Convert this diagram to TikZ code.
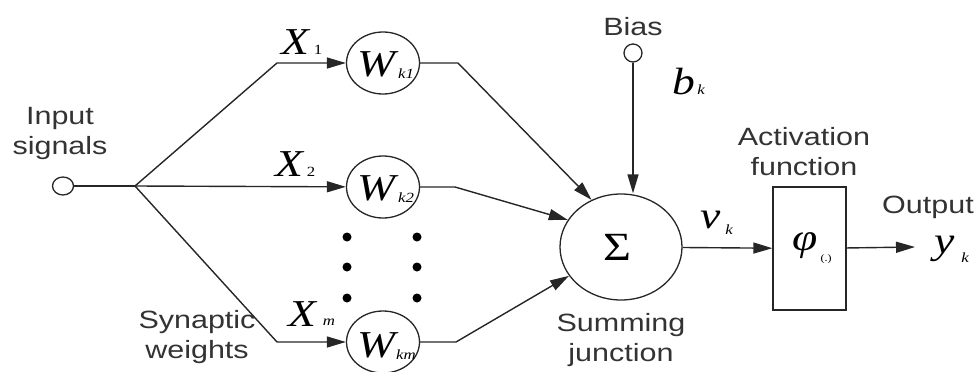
\documentclass[tikz,border=0pt]{standalone}
\usepackage{fontspec}
\setmainfont{Liberation Sans}
\newfontfamily\labfont[FakeStretch=1.22]{Liberation Sans}
\newfontfamily\symfont[FakeStretch=1.2]{Liberation Serif}
\usetikzlibrary{arrows.meta,shapes.geometric}
\begin{document}
\begin{tikzpicture}[x=1pt,y=-1pt,
  wire/.style={line width=1.4pt, draw=black!85},
  arr/.style={wire, -{Triangle[length=19pt,width=11pt]}},
  lab/.style={font=\labfont\fontsize{25}{30}\selectfont, align=center, text=black!80, inner sep=0},
  sym/.style={font=\symfont\itshape\fontsize{38}{38}\selectfont, inner sep=0},
  sub/.style={font=\symfont\itshape\fontsize{14}{14}\selectfont, inner sep=0},
  subup/.style={font=\symfont\fontsize{14}{14}\selectfont, inner sep=0},
  port/.style={draw=black!85, line width=1.3pt, ellipse, minimum width=21, minimum height=18, inner sep=0},
  weight/.style={draw=black!85, line width=1.3pt, ellipse, minimum width=73, minimum height=62, inner sep=0},
  dot/.style={circle, fill=black, minimum size=9, inner sep=0}]
\useasboundingbox (0,0) rectangle (977,372);

% input port and fan-out junction
\node[port] (in) at (63,186) {};
\coordinate (j) at (135,186);
\coordinate (b1) at (277,63);
\coordinate (b3) at (277,342);

% synaptic weights
\node[weight] (w1) at (383,63) {};
\node[weight] (w2) at (383,187) {};
\node[weight] (w3) at (383,342) {};
\node[sym] (wl1) at (376,64) {W};
\node[sub] (ws1) at (406,74) {k1};
\node[sym] (wl2) at (376,188) {W};
\node[sub] (ws2) at (406,198) {k2};
\node[sym] (wl3) at (376,345) {W};
\node[sub] (ws3) at (406,355) {km};

% elided weights
\foreach \i/\x/\y in {1/347/237,2/347/267,3/347/298,4/417/237,5/417/267,6/417/298}
  \node[dot] (d\i) at (\x,\y) {};

% input labels
\node[sym] (x1) at (295,42) {X};
\node[subup] (x1s) at (318,50) {1};
\node[sym] (x2) at (289,164) {X};
\node[subup] (x2s) at (311,172) {2};
\node[sym] (x3) at (302,314) {X};
\node[sub] (x3s) at (329,322) {m};

% summing junction
\node[draw=black!85, line width=1.3pt, ellipse, minimum width=122, minimum height=106, inner sep=0] (sum) at (621,247) {};
\node[font=\symfont\fontsize{40}{40}\selectfont, inner sep=0] (sigma) at (617,247) {Σ};

% bias
\node[port, minimum width=18] (bias) at (633,53) {};
\node[sym] (b) at (684,82) {b};
\node[sub] (bs) at (701,90) {k};

% activation box
\node[draw=black!85, line width=1.3pt, rectangle, minimum width=73, minimum height=123, inner sep=0] (act) at (809.5,248.5) {};
\node[sym] (phi) at (805,246) {φ};
\node[font=\symfont\fontsize{10}{10}\selectfont, inner sep=0] (phis) at (826,259) {(.)};

% induced field and output labels
\node[sym] (nu) at (711,220) {ν};
\node[sub] (nus) at (729,230) {k};
\coordinate (out) at (915,247);
\node[sym] (y) at (945,249) {y};
\node[sub] (ys) at (965,258) {k};

% text labels
\node[lab] (tin) at (60,133) {Input\\signals};
\node[lab] (tsyn) at (197,337) {Synaptic\\weights};
\node[lab] (tsum) at (621,340) {Summing\\junction};
\node[lab] (tact) at (804,152) {Activation\\function};
\node[lab] (tout) at (928,207) {Output};
\node[lab] (tbias) at (633,27) {Bias};

% connectors
\draw[wire] (in) -- (j);
\draw[arr] (j) -- (b1) -- (w1);
\draw[arr] (j) -- (w2);
\draw[arr] (j) -- (b3) -- (w3);
\coordinate (c1) at (458,63);
\coordinate (c2) at (455,187);
\coordinate (c3) at (456,342);
\draw[arr] (w1.east) -- (c1) -- (sum.122);
\draw[arr] (w2.east) -- (c2) -- (sum.153);
\draw[arr] (w3.east) -- (c3) -- (sum.209);
\draw[arr] (bias) -- (bias |- sum.north);
\draw[arr] (sum) -- (act);
\draw[arr] (act) -- (out);
\end{tikzpicture}
\end{document}
